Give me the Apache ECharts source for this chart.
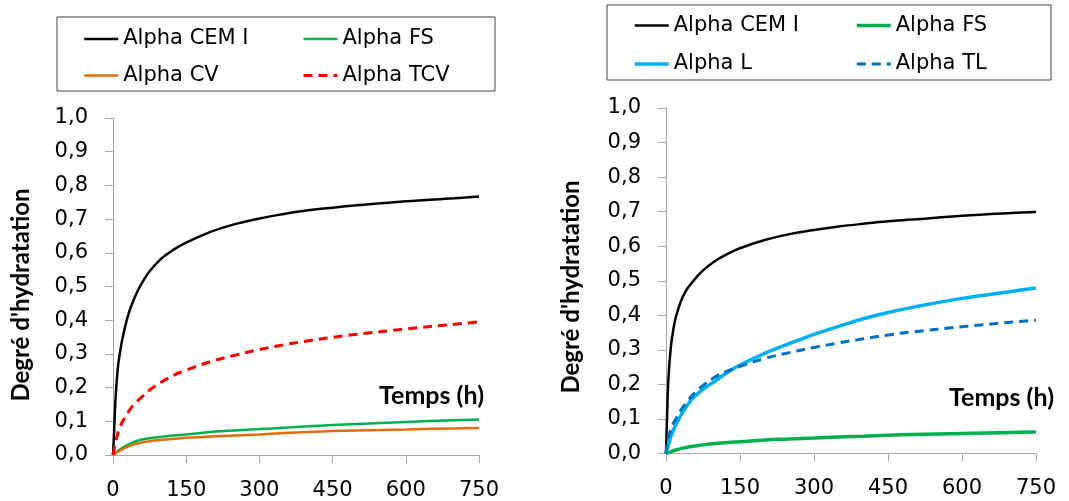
<!DOCTYPE html>
<html>
<head>
<meta charset="utf-8">
<script src="https://cdn.jsdelivr.net/npm/echarts@6/dist/echarts.min.js"></script>
<style>
html,body{margin:0;padding:0;background:#fff;}
#c{width:1069px;height:501px;}
</style>
</head>
<body>
<div id="c"></div>
<script>
// Time (h)
const times = [0, 2, 5, 10, 15, 20, 30, 40, 50, 60, 75, 100, 125, 150, 200, 250, 300, 350, 400, 450, 500, 600, 700, 750];

// Left chart
const leftCEM = [0, 0.06, 0.16, 0.26, 0.31, 0.35, 0.41, 0.452, 0.485, 0.512, 0.545, 0.584, 0.61, 0.63, 0.662, 0.685, 0.702, 0.715, 0.726, 0.734, 0.741, 0.753, 0.762, 0.767];
const leftFS  = [0, 0.003, 0.006, 0.012, 0.017, 0.022, 0.03, 0.037, 0.042, 0.046, 0.05, 0.054, 0.058, 0.061, 0.068, 0.073, 0.077, 0.081, 0.085, 0.089, 0.092, 0.098, 0.103, 0.105];
const leftCV  = [0, 0.002, 0.005, 0.01, 0.014, 0.018, 0.025, 0.03, 0.034, 0.037, 0.041, 0.045, 0.048, 0.051, 0.055, 0.058, 0.061, 0.065, 0.068, 0.071, 0.073, 0.076, 0.079, 0.08];
const leftTCV = [0, 0.015, 0.035, 0.065, 0.085, 0.1, 0.125, 0.145, 0.16, 0.173, 0.193, 0.217, 0.237, 0.252, 0.277, 0.296, 0.313, 0.327, 0.339, 0.349, 0.358, 0.374, 0.388, 0.395];

// Right chart
const rightCEM = [0, 0.1, 0.22, 0.31, 0.36, 0.395, 0.44, 0.47, 0.49, 0.507, 0.53, 0.558, 0.578, 0.594, 0.618, 0.635, 0.647, 0.657, 0.665, 0.672, 0.677, 0.688, 0.696, 0.699];
const rightFS  = [0, 0.001, 0.003, 0.005, 0.008, 0.01, 0.014, 0.017, 0.02, 0.022, 0.025, 0.029, 0.032, 0.034, 0.039, 0.042, 0.045, 0.048, 0.05, 0.053, 0.055, 0.058, 0.061, 0.062];
const rightL   = [0, 0.01, 0.025, 0.05, 0.068, 0.083, 0.11, 0.133, 0.153, 0.168, 0.186, 0.21, 0.235, 0.256, 0.29, 0.318, 0.345, 0.368, 0.39, 0.408, 0.423, 0.449, 0.469, 0.479];
const rightTL  = [0, 0.025, 0.048, 0.07, 0.088, 0.1, 0.125, 0.145, 0.163, 0.178, 0.197, 0.222, 0.239, 0.252, 0.275, 0.292, 0.307, 0.32, 0.332, 0.343, 0.352, 0.367, 0.38, 0.386];

const xTicks = [0, 150, 300, 450, 600, 750];
const yTitle = "Degré d'hydratation";
const xTitle = "Temps (h)";

const FONT = 'DejaVu Sans';
const pairs = (t, v) => t.map((x, i) => [x, v[i]]);

function xAxisDef(gi) {
  return {
    type: 'value', gridIndex: gi, min: xTicks[0], max: xTicks[xTicks.length - 1], interval: xTicks[1] - xTicks[0],
    axisLine: { show: true, onZero: false, lineStyle: { color: '#a6a6a6', width: 1 } },
    axisTick: { show: true, inside: false, length: 8, lineStyle: { color: '#a6a6a6' } },
    axisLabel: { margin: 25, color: '#000', fontFamily: FONT, fontSize: 21 },
    splitLine: { show: false }
  };
}
function yAxisDef(gi) {
  return {
    type: 'value', gridIndex: gi, min: 0, max: 1, interval: 0.1,
    axisLine: { show: true, lineStyle: { color: '#a6a6a6', width: 1 } },
    axisTick: { show: true, inside: false, length: 8, lineStyle: { color: '#a6a6a6' } },
    axisLabel: { margin: 25, color: '#000', fontFamily: FONT, fontSize: 21,
      formatter: v => v.toFixed(1).replace('.', ',') },
    splitLine: { show: false }
  };
}
function line(name, gi, vals, color, width, type) {
  return {
    name, type: 'line', xAxisIndex: gi, yAxisIndex: gi,
    data: pairs(times, vals), symbol: 'none', showSymbol: false,
    smooth: 0.4, color,
    lineStyle: { color, width, type: type || 'solid', cap: 'butt' },
    z: 3
  };
}
const legendCommon = {
  orient: 'vertical', padding: 0, itemWidth: 34, itemHeight: 14,
  textStyle: { fontFamily: FONT, fontSize: 21, color: '#000', lineHeight: 24 },
  selectedMode: false
};
const hideSym = { opacity: 0 };
const DASH = [9, 6];

const chart = echarts.init(document.getElementById('c'), null, { renderer: 'canvas' });
chart.setOption({
  animation: false,
  backgroundColor: '#fff',
  grid: [
    { left: 113, right: 590, top: 118, bottom: 46, containLabel: false },
    { left: 666, right: 33, top: 108, bottom: 47.5, containLabel: false }
  ],
  xAxis: [xAxisDef(0), xAxisDef(1)],
  yAxis: [yAxisDef(0), yAxisDef(1)],
  legend: [
    Object.assign({}, legendCommon, { left: 83, top: 27, itemGap: 12.6,
      data: [{ name: 'Alpha CEM I', itemStyle: hideSym, lineStyle: { color: '#000', width: 2.5 } },
             { name: 'Alpha CV', itemStyle: hideSym, lineStyle: { color: '#E36C09', width: 2.5 } }] }),
    Object.assign({}, legendCommon, { left: 302, top: 27, itemGap: 12.6,
      data: [{ name: 'Alpha FS', itemStyle: hideSym, lineStyle: { color: '#00B050', width: 2.5 } },
             { name: 'Alpha TCV', itemStyle: hideSym, lineStyle: { color: '#FF0000', width: 3, type: DASH } }] }),
    Object.assign({}, legendCommon, { left: 633, top: 13.5, itemGap: 14.4,
      data: [{ name: 'Alpha CEM I', itemStyle: hideSym, lineStyle: { color: '#000', width: 2.5 } },
             { name: 'Alpha L', itemStyle: hideSym, lineStyle: { color: '#00B0F0', width: 3.5 } }] }),
    Object.assign({}, legendCommon, { left: 855, top: 13.5, itemGap: 14.4,
      data: [{ name: 'Alpha FS', itemStyle: hideSym, lineStyle: { color: '#00B050', width: 3.5 } },
             { name: 'Alpha TL', itemStyle: hideSym, lineStyle: { color: '#0070C0', width: 3, type: DASH } }] })
  ],
  graphic: [
    { type: 'rect', shape: { x: 57, y: 17, width: 438, height: 74 }, style: { fill: 'none', stroke: '#404040', lineWidth: 1 }, z: 0 },
    { type: 'rect', shape: { x: 607, y: 5, width: 444, height: 75 }, style: { fill: 'none', stroke: '#404040', lineWidth: 1 }, z: 0 },
    { type: 'text', x: 21, y: 295, rotation: Math.PI / 2,
      style: { text: yTitle, font: 'bold 24px Lato', fill: '#000', textAlign: 'center', textVerticalAlign: 'middle' } },
    { type: 'text', x: 571, y: 287, rotation: Math.PI / 2,
      style: { text: yTitle, font: 'bold 24px Lato', fill: '#000', textAlign: 'center', textVerticalAlign: 'middle' } },
    { type: 'text', x: 484, y: 396,
      style: { text: xTitle, font: 'bold 25px Lato', fill: '#000', textAlign: 'right', textVerticalAlign: 'middle' } },
    { type: 'text', x: 1054, y: 398,
      style: { text: xTitle, font: 'bold 25px Lato', fill: '#000', textAlign: 'right', textVerticalAlign: 'middle' } }
  ],
  series: [
    line('Alpha CEM I', 0, leftCEM, '#000000', 2.5),
    line('Alpha FS', 0, leftFS, '#00B050', 2.5),
    line('Alpha CV', 0, leftCV, '#E36C09', 2.5),
    line('Alpha TCV', 0, leftTCV, '#FF0000', 3, DASH),
    line('Alpha CEM I', 1, rightCEM, '#000000', 2.5),
    line('Alpha FS', 1, rightFS, '#00B050', 3.5),
    line('Alpha L', 1, rightL, '#00B0F0', 3.5),
    line('Alpha TL', 1, rightTL, '#0070C0', 3, DASH)
  ]
});
</script>
</body>
</html>
